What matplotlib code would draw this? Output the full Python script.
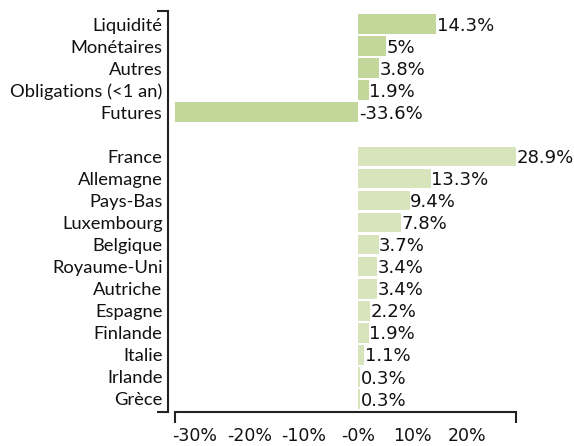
import numpy as np
import matplotlib
matplotlib.use('Agg')
import matplotlib.pyplot as plt

group1 = ['Liquidité', 'Monétaires', 'Autres', 'Obligations (<1 an)', 'Futures']
values1 = [14.3, 5, 3.8, 1.9, -33.6]
group2 = ['France', 'Allemagne', 'Pays-Bas', 'Luxembourg', 'Belgique', 'Royaume-Uni',
          'Autriche', 'Espagne', 'Finlande', 'Italie', 'Irlande', 'Grèce']
values2 = [28.9, 13.3, 9.4, 7.8, 3.7, 3.4, 3.4, 2.2, 1.9, 1.1, 0.3, 0.3]
xticks = [-30, -20, -10, 0, 10, 20]
xticklabels = ['-30%', '-20%', '-10%', '-0%', '10%', '20%']

W, H = 574, 446
fig = plt.figure(figsize=(W / 100, H / 100), dpi=100)
ax = fig.add_axes([175 / W, 1 - 412 / H, 341 / W, 401 / H])

# spines first: set_position resets the ticks
ax.spines['top'].set_visible(False)
ax.spines['right'].set_visible(False)
ax.spines['left'].set_position(('outward', 5))
for s in ['left', 'bottom']:
    ax.spines[s].set_linewidth(1.5)
    ax.spines[s].set_color('#222222')

pos1 = np.arange(len(group1))
pos2 = np.arange(len(group2)) + len(group1) + 1
ax.barh(pos1, values1, height=0.9, color='#c4d79b')
ax.barh(pos2, values2, height=0.9, color='#d8e4bc')

for p, v in zip(list(pos1) + list(pos2), values1 + values2):
    lbl = '%g%%' % v
    ax.text(max(v, 0) + 0.1, p + 0.08, lbl, ha='left', va='center', fontsize=13,
            family='DejaVu Sans', color='#111111')

ymax = len(group1) + 1 + len(group2) - 1
ax.set_ylim(ymax + 0.6, -0.6)
ax.set_xlim(-33.6, 28.9)

ax.set_yticks(list(pos1) + list(pos2))
ax.set_yticklabels(group1 + group2)
ax.set_xticks(xticks)
ax.set_xticklabels(xticklabels)
ax.tick_params(axis='both', which='major', length=0, labelcolor='#111111')
ax.tick_params(axis='y', which='major', pad=4, labelsize=13.2, labelfontfamily='Lato')
ax.tick_params(axis='x', which='major', pad=11, labelsize=12.5, labelfontfamily='DejaVu Sans')

ax.set_xticks([-33.6, 28.9], minor=True)
ax.set_yticks([-0.6, ymax + 0.6], minor=True)
ax.tick_params(which='minor', length=8, width=1.5, color='#222222')

plt.savefig('out.png', dpi=100)
